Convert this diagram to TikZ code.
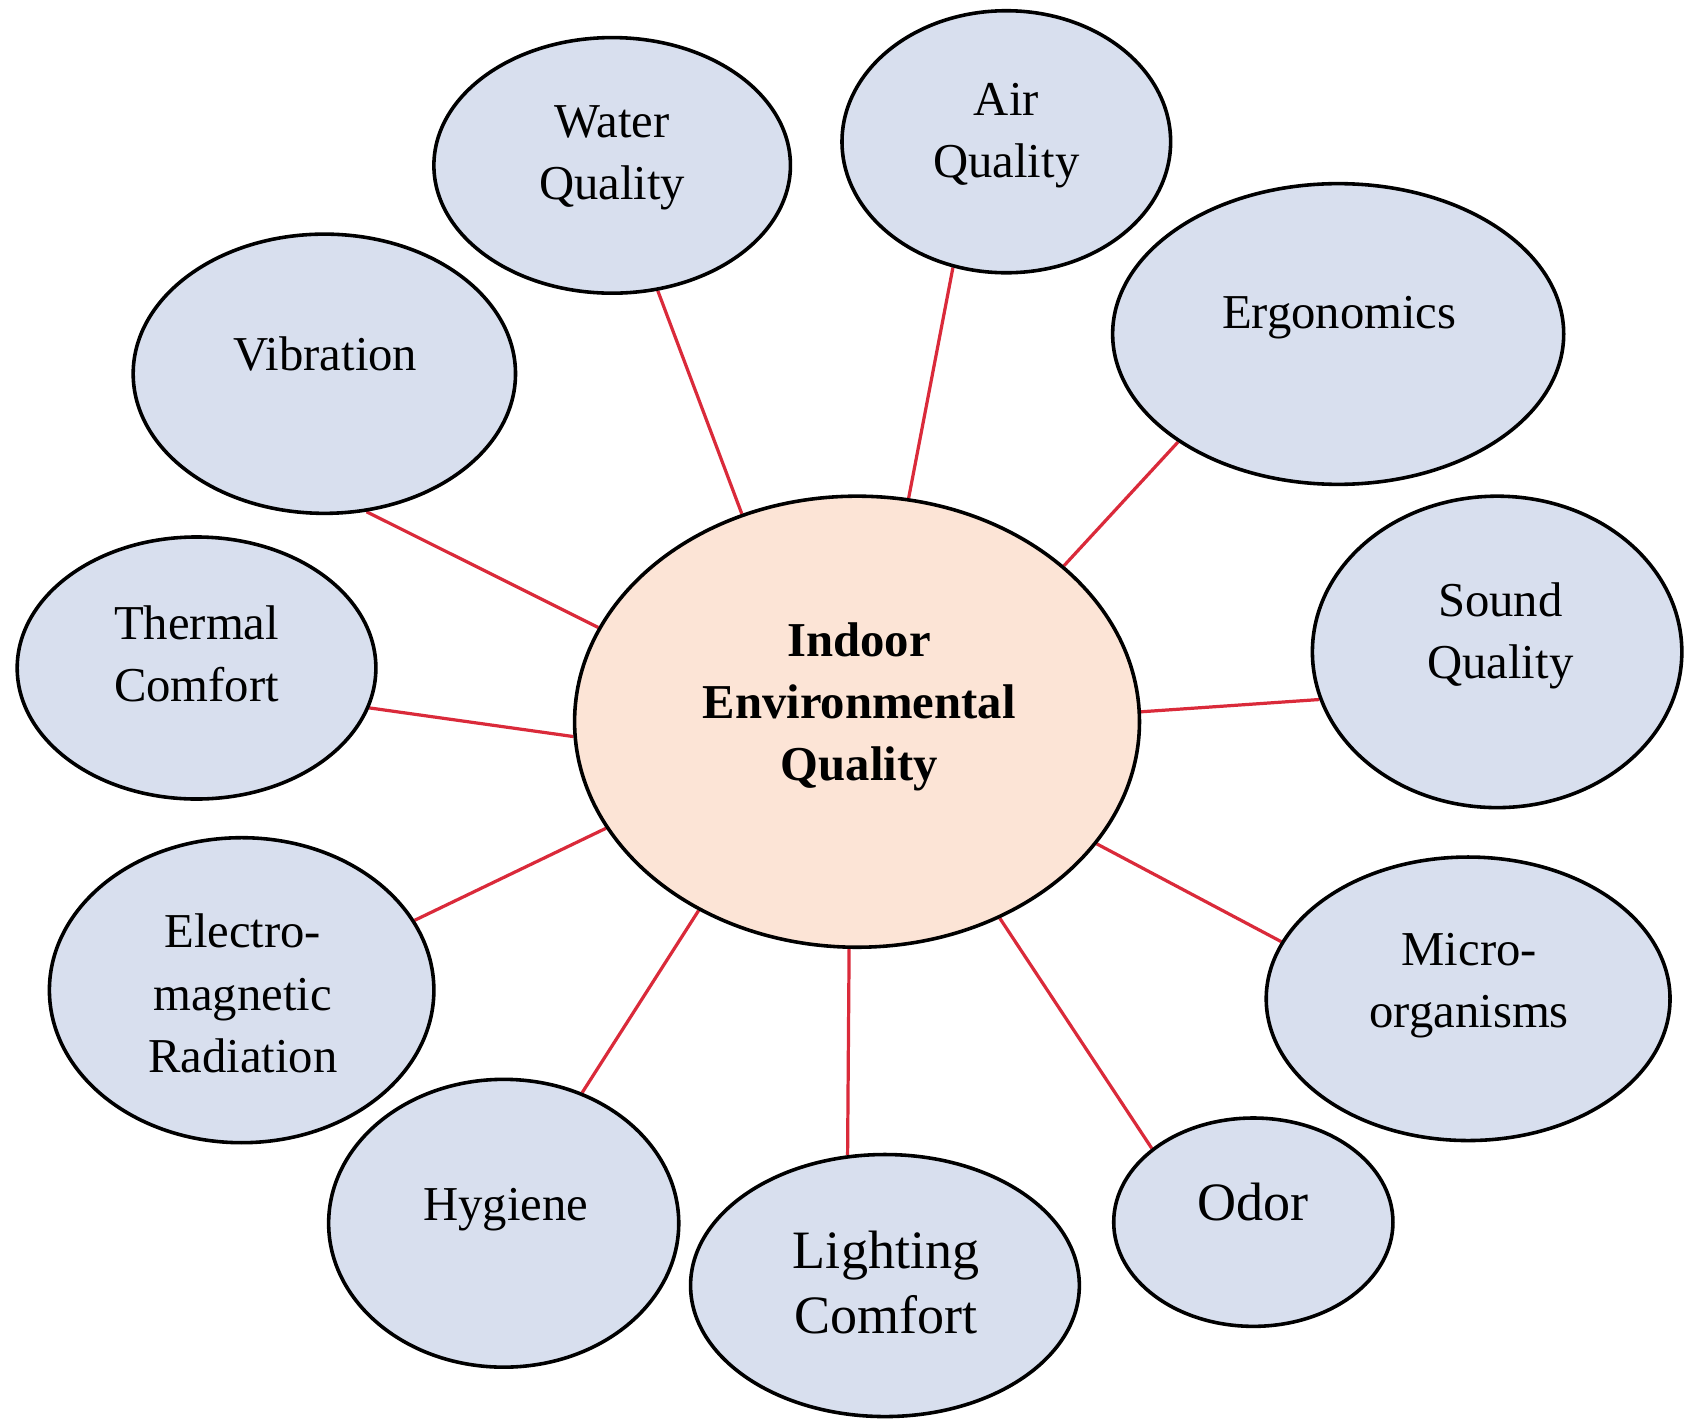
\documentclass[tikz,border=0pt]{standalone}
\usepackage{fontspec}
\setmainfont{Liberation Serif}
\usetikzlibrary{shapes.geometric,backgrounds}
\definecolor{bub}{RGB}{216,223,238}
\definecolor{core}{RGB}{252,228,214}
\definecolor{link}{RGB}{218,42,58}
\begin{document}
\begin{tikzpicture}[x=0.3pt,y=-0.3pt,
 bubble/.style={ellipse,draw=black,line width=1pt,fill=bub,inner sep=0pt},
 lbl/.style={align=center,font=\fontsize{13.6}{17.4}\selectfont,inner sep=0pt},
 biglbl/.style={align=center,font=\fontsize{15.1}{18}\selectfont,inner sep=0pt},
 linkline/.style={draw=link,line width=0.9pt}]
\useasboundingbox (0,0) rectangle (1568,1321);
% centre
\node[bubble,fill=core,minimum width=157.8pt,minimum height=126pt] (c) at (798,672) {};
\node[lbl,font=\fontsize{13.6}{17.4}\selectfont\bfseries] (ct) at (800,658) {Indoor\\Environmental\\Quality};
% satellites
\node[bubble,minimum width=99.6pt,minimum height=71.4pt] (wq) at (570,154) {};
\node[lbl] (wqt) at (570,147) {Water\\Quality};
\node[bubble,minimum width=91.8pt,minimum height=73.2pt] (aq) at (937,132) {};
\node[lbl] (aqt) at (937,126) {Air\\Quality};
\node[bubble,minimum width=126pt,minimum height=84pt] (er) at (1246,311) {};
\node[lbl] (ert) at (1247,296) {Ergonomics};
\node[bubble,minimum width=106.8pt,minimum height=78pt] (vi) at (302,348) {};
\node[lbl] (vit) at (303,330) {Vibration};
\node[bubble,minimum width=100.2pt,minimum height=73.2pt] (th) at (183,622) {};
\node[lbl] (tht) at (183,609) {Thermal\\Comfort};
\node[bubble,minimum width=103.2pt,minimum height=87pt] (sq) at (1394,607) {};
\node[lbl] (sqt) at (1397,592) {Sound\\Quality};
\node[bubble,minimum width=107.4pt,minimum height=85.2pt] (em) at (225,922) {};
\node[lbl] (emt) at (226,925) {Electro-\\magnetic\\Radiation};
\node[bubble,minimum width=112.8pt,minimum height=79.2pt] (mo) at (1367,930) {};
\node[lbl] (mot) at (1368,918) {Micro-\\organisms};
\node[bubble,minimum width=97.8pt,minimum height=80.4pt] (hy) at (469,1139) {};
\node[lbl] (hyt) at (471,1126) {Hygiene};
\node[bubble,minimum width=108.6pt,minimum height=73.2pt] (lc) at (824,1197) {};
\node[biglbl] (lct) at (825,1194) {Lighting\\Comfort};
\node[bubble,minimum width=78pt,minimum height=58.2pt] (od) at (1167,1138) {};
\node[biglbl] (odt) at (1167,1119) {Odor};
% connectors
\begin{pgfonlayer}{background}
\draw[linkline] (c.119.2) -- (wq.290);
\draw[linkline] (c.77.7) -- (aq.247.9);
\draw[linkline] (c.37.8) -- (er.214);
\draw[linkline] (c.160.9) -- (vi.287.5);
\draw[linkline] (c.183.1) -- (th.347.4);
\draw[linkline] (c.2) -- (sq.195.5);
\draw[linkline] (c.203.1) -- (em.22.5);
\draw[linkline] (c.333.5) -- (mo.163.1);
\draw[linkline] (c.230) -- (hy.59.8);
\draw[linkline] (c.268.4) -- (lc.106.8);
\draw[linkline] (c.306.3) -- (od.144.1);
\end{pgfonlayer}
\end{tikzpicture}
\end{document}
